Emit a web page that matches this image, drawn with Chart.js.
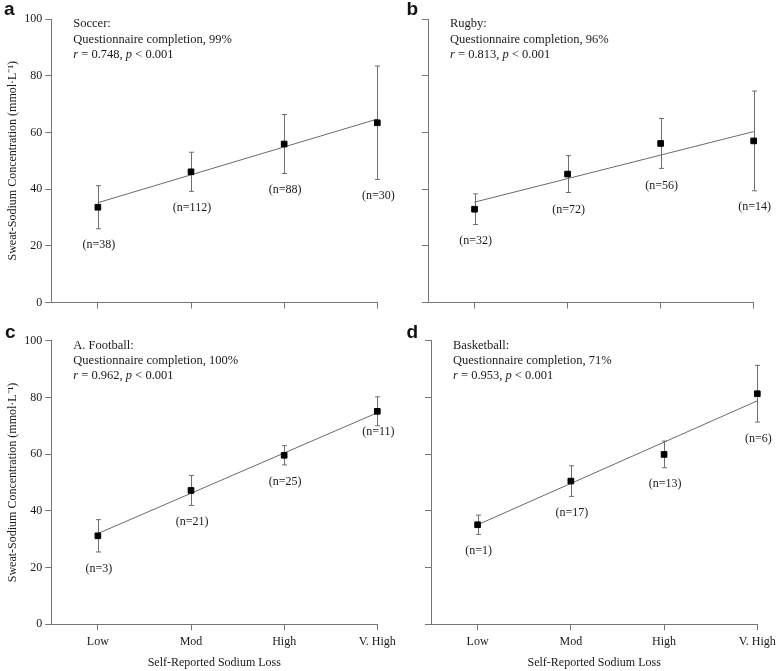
<!DOCTYPE html>
<html><head><meta charset="utf-8">
<script src="https://cdn.jsdelivr.net/npm/chart.js@4"></script>
<style>
html,body{margin:0;padding:0;background:#fff;}
#wrap{position:relative;width:778px;height:671px;overflow:hidden;}
canvas{position:absolute;left:0;top:0;}
</style></head><body>
<div id="wrap">
<canvas id="ca" width="778" height="671"></canvas>
<canvas id="cb" width="778" height="671"></canvas>
<canvas id="cc" width="778" height="671"></canvas>
<canvas id="cd" width="778" height="671"></canvas>
</div>
<script>
// ---- data ----
const categories = ['Low', 'Mod', 'High', 'V. High'];
const yTickValues = [0, 20, 40, 60, 80, 100];

const soccerMean = [33.6, 46.1, 55.9, 63.4];
const soccerSD   = [7.6, 6.9, 10.4, 20.0];
const soccerN    = [38, 112, 88, 30];
const soccerFit  = [35.2, 64.7];

const rugbyMean = [32.9, 45.3, 56.1, 57.0];
const rugbySD   = [5.4, 6.5, 8.8, 17.6];
const rugbyN    = [32, 72, 56, 14];
const rugbyFit  = [35.4, 60.3];

const footballMean = [31.2, 47.2, 59.6, 75.1];
const footballSD   = [5.7, 5.3, 3.4, 5.1];
const footballN    = [3, 21, 25, 11];
const footballFit  = [32.0, 74.6];

const basketballMean = [35.1, 50.5, 59.9, 81.3];
const basketballSD   = [3.4, 5.4, 4.7, 10.0];
const basketballN    = [1, 17, 13, 6];
const basketballFit  = [35.1, 78.8];

const sportNames = ['Soccer:', 'Rugby:', 'A. Football:', 'Basketball:'];
const completion = ['99%', '96%', '100%', '71%'];
const rValues = ['0.748', '0.813', '0.962', '0.953'];
const pText = '< 0.001';
const yTitle = 'Sweat-Sodium Concentration (mmol\u00B7L\u207B\u00B9)';
const xTitle = 'Self-Reported Sodium Loss';

// ---- layout / style ----
const W = 778, H = 671;
const AXIS = '#767676';
const TXT = '#1a1a1a';
const SERIF = "'Liberation Serif', 'Times New Roman', serif";
Chart.defaults.font.family = SERIF;
Chart.defaults.color = TXT;

const panels = [
  {id:'ca', letter:'a', letterPos:[4,15], mean:soccerMean, sd:soccerSD, n:soccerN, fit:soccerFit, idx:0,
   area:{l:51.3, t:19, r:377.3, b:302.5}, yLabels:true, xLabels:false, gaps:[16.5,16.5,16.5,16]},
  {id:'cb', letter:'b', letterPos:[406.5,15], mean:rugbyMean, sd:rugbySD, n:rugbyN, fit:rugbyFit, idx:1,
   area:{l:428, t:19, r:753.7, b:302.5}, yLabels:false, xLabels:false, gaps:[16.5,17,17,16.5]},
  {id:'cc', letter:'c', letterPos:[5,338], mean:footballMean, sd:footballSD, n:footballN, fit:footballFit, idx:2,
   area:{l:51.3, t:340.7, r:377.3, b:624.3}, yLabels:true, xLabels:true, gaps:[16.5,16.5,16.5,6]},
  {id:'cd', letter:'d', letterPos:[406.5,338], mean:basketballMean, sd:basketballSD, n:basketballN, fit:basketballFit, idx:3,
   area:{l:431, t:340.7, r:757.3, b:624.3}, yLabels:false, xLabels:true, gaps:[16.5,16.5,16.5,16.5]}
];

function overlayPlugin(p) {
  return {
    id: 'overlay' + p.letter,
    beforeDatasetsDraw(chart) {
      const ctx = chart.ctx, xs = chart.scales.x, ys = chart.scales.y;
      ctx.save();
      ctx.strokeStyle = '#6e6e6e';
      ctx.lineWidth = 1;
      p.mean.forEach((m, i) => {
        const x = Math.round(xs.getPixelForValue(i)) + 0.5;
        const yt = ys.getPixelForValue(m + p.sd[i]);
        const yb = ys.getPixelForValue(m - p.sd[i]);
        ctx.beginPath();
        ctx.moveTo(x, yt); ctx.lineTo(x, yb);
        ctx.moveTo(x - 2.5, yt); ctx.lineTo(x + 2.5, yt);
        ctx.moveTo(x - 2.5, yb); ctx.lineTo(x + 2.5, yb);
        ctx.stroke();
      });
      ctx.restore();
    },
    afterDraw(chart) {
      const ctx = chart.ctx, xs = chart.scales.x, ys = chart.scales.y;
      const a = chart.chartArea;
      ctx.save();
      ctx.fillStyle = TXT;
      // n labels
      ctx.font = '12px ' + SERIF;
      ctx.textAlign = 'center';
      ctx.textBaseline = 'middle';
      p.mean.forEach((m, i) => {
        const x = xs.getPixelForValue(i) + 1;
        const y = ys.getPixelForValue(m - p.sd[i]) + p.gaps[i];
        ctx.fillText('(n=' + p.n[i] + ')', x, y);
      });
      // annotation
      const tx = a.left + 22;
      ctx.textAlign = 'left';
      ctx.font = '12.5px ' + SERIF;
      ctx.fillText(sportNames[p.idx], tx, a.top + 5);
      ctx.fillText('Questionnaire completion, ' + completion[p.idx], tx, a.top + 20.5);
      let cx = tx; const ly = a.top + 35.5;
      const parts = [['r', true], [' = ' + rValues[p.idx] + ', ', false], ['p', true], [' ' + pText, false]];
      parts.forEach(([s, it]) => {
        ctx.font = (it ? 'italic ' : '') + '12.5px ' + SERIF;
        ctx.fillText(s, cx, ly);
        cx += ctx.measureText(s).width;
      });
      // panel letter
      ctx.font = 'bold 19px "Liberation Sans", Arial, sans-serif';
      ctx.textBaseline = 'alphabetic';
      ctx.fillStyle = '#111';
      ctx.fillText(p.letter, p.letterPos[0], p.letterPos[1]);
      ctx.restore();
    }
  };
}

panels.forEach(p => {
  const A = p.area;
  const yLeftEdge = p.yLabels ? 5.3 : A.l - 40;
  const yWidth = A.l - yLeftEdge;
  const xHeight = p.xLabels ? 45.6 : 20;
  const padBottom = H - A.b - xHeight;
  new Chart(document.getElementById(p.id), {
    data: {
      datasets: [
        {type:'line', data:[{x:0, y:p.fit[0]}, {x:3, y:p.fit[1]}], borderColor:'#6a6a6a', borderWidth:1,
         pointRadius:0, fill:false, tension:0, order:2, clip:false},
        {type:'scatter', data:p.mean.map((m,i)=>({x:i, y:m})), pointStyle:'rect', pointRadius:4,
         backgroundColor:'#000', borderColor:'#000', borderWidth:1, order:1, clip:false}
      ]
    },
    options: {
      responsive:false, animation:false, events:[],
      layout:{padding:{left:yLeftEdge, top:A.t, right:W - A.r, bottom:padBottom}},
      plugins:{legend:{display:false}, tooltip:{enabled:false}, title:{display:false}},
      scales: {
        x: {
          type:'linear', position:'bottom', min:-0.5, max:3,
          afterBuildTicks(s){ s.ticks = categories.map((c,i)=>({value:i})); },
          afterFit(s){ s.height = xHeight; s.paddingLeft = 0; s.paddingRight = 0; },
          grid:{display:true, drawOnChartArea:false, drawTicks:true, tickLength:6, color:AXIS, lineWidth:1},
          border:{display:true, color:AXIS, width:1},
          ticks:{autoSkip:false, maxRotation:0, padding:4, color:TXT, font:{size:12},
                 callback:(v)=> p.xLabels ? categories[v] : ''},
          title:{display:p.xLabels, text:xTitle, color:TXT, font:{size:12}, padding:{top:0, bottom:0}}
        },
        y: {
          type:'linear', position:'left', min:0, max:100,
          afterBuildTicks(s){ s.ticks = yTickValues.map(v=>({value:v})); },
          afterFit(s){ s.width = yWidth; s.paddingTop = 0; s.paddingBottom = 0; s.paddingLeft = 0; s.paddingRight = 0; },
          grid:{display:true, drawOnChartArea:false, drawTicks:true, tickLength:6, color:AXIS, lineWidth:1},
          border:{display:true, color:AXIS, width:1},
          ticks:{padding:3, color:TXT, font:{size:12}, callback:(v)=> p.yLabels ? String(v) : ''},
          title:{display:p.yLabels, text:yTitle, color:TXT, font:{size:12}, padding:{top:0, bottom:0}}
        }
      }
    },
    plugins:[overlayPlugin(p)]
  });
});
</script>
</body></html>
